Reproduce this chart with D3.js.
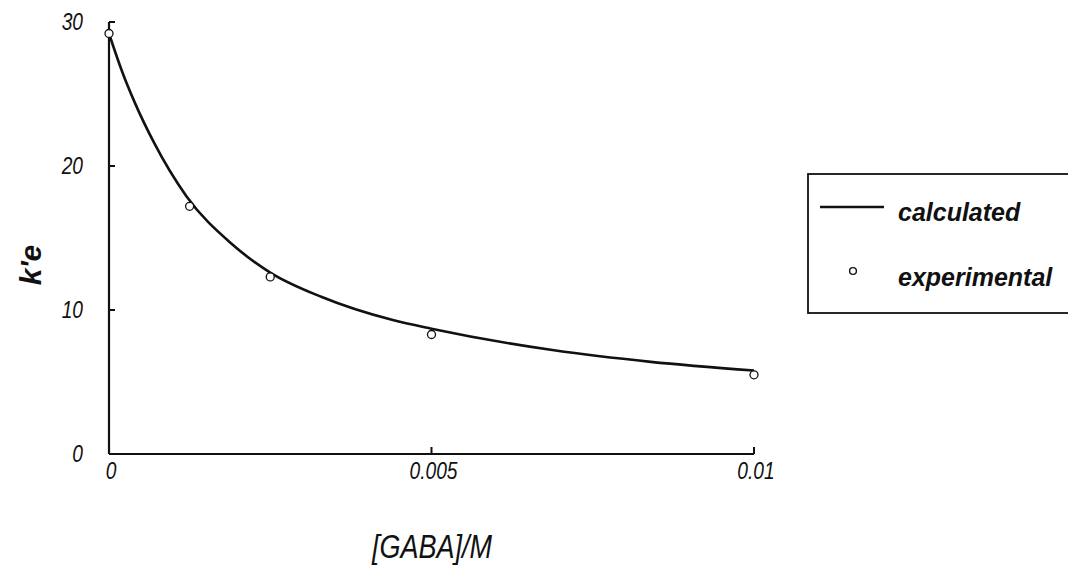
<!DOCTYPE html>
<html><head><meta charset="utf-8">
<script src="https://cdn.jsdelivr.net/npm/d3@7/dist/d3.min.js"></script>
<style>
body{margin:0;background:#fff;}
svg{display:block;}
.tick-lbl{font-family:"Liberation Sans",Arial,sans-serif;font-style:italic;font-size:24px;fill:#111;}
</style></head>
<body>
<svg id="c" width="1068" height="571"></svg>
<script>
// calculated curve
const calcX = [0, 0.0002, 0.0004, 0.0007, 0.0012, 0.0019, 0.0025, 0.0033, 0.0044, 0.005, 0.0069, 0.0084, 0.01];
const calcY = [29.2, 26.6, 24.4, 21.6, 17.9, 14.6, 12.6, 10.9, 9.3, 8.7, 7.2, 6.4, 5.8];
// experimental points
const expX = [0, 0.00125, 0.0025, 0.005, 0.01];
const expY = [29.2, 17.2, 12.3, 8.3, 5.5];
// tick labels
const xTicks = [0, 0.005, 0.01];
const xTickLabels = ["0", "0.005", "0.01"];
const yTicks = [0, 10, 20, 30];
const yTickLabels = ["0", "10", "20", "30"];
const legendLabels = ["calculated", "experimental"];

const svg = d3.select("#c");
const x = d3.scaleLinear().domain([0, 0.01]).range([109, 754]);
const y = d3.scaleLinear().domain([0, 30]).range([454, 22]);
const NARROW = 0.8;

// axes lines
const axG = svg.append("g").attr("stroke", "#111").attr("fill", "none");
axG.append("line").attr("x1", x(0)).attr("x2", x(0)).attr("y1", y(30)).attr("y2", y(0)).attr("stroke-width", 2.2);
axG.append("line").attr("x1", x(0)).attr("x2", x(0.01)).attr("y1", y(0)).attr("y2", y(0)).attr("stroke-width", 2.2);
yTicks.filter(d => d > 0).forEach(d => {
  axG.append("line").attr("x1", x(0)).attr("x2", x(0) + 6).attr("y1", y(d)).attr("y2", y(d)).attr("stroke-width", 2);
});
xTicks.filter(d => d > 0).forEach(d => {
  axG.append("line").attr("x1", x(d)).attr("x2", x(d)).attr("y1", y(0)).attr("y2", y(0) - 7).attr("stroke-width", 2);
});

// tick labels (condensed)
svg.append("g").selectAll("text").data(yTicks).join("text")
  .attr("class", "tick-lbl")
  .attr("transform", d => `translate(83,${y(d) + 8}) scale(${NARROW},1)`)
  .attr("text-anchor", "end")
  .text((d, i) => yTickLabels[i]);
svg.append("g").selectAll("text").data(xTicks).join("text")
  .attr("class", "tick-lbl")
  .attr("transform", d => `translate(${x(d) + 2},479) scale(${NARROW},1)`)
  .attr("text-anchor", "middle")
  .text((d, i) => xTickLabels[i]);

// axis titles
svg.append("text").attr("transform", "translate(432,558) scale(0.82,1)").attr("text-anchor", "middle")
  .style("font-family", "'Liberation Sans',Arial,sans-serif")
  .style("font-style", "italic").style("font-size", "33px").attr("fill", "#111")
  .text("[GABA]/M");
svg.append("text").attr("transform", "translate(41,265) rotate(-90)").attr("text-anchor", "middle")
  .style("font-family", "'Liberation Sans',Arial,sans-serif")
  .style("font-style", "italic").style("font-weight", "bold").style("font-size", "30px").attr("fill", "#111")
  .text("k'e");

// calculated curve
const pts = calcX.map((d, i) => [d, calcY[i]]);
const line = d3.line().x(d => x(d[0])).y(d => y(d[1])).curve(d3.curveMonotoneX);
svg.append("path").datum(pts).attr("d", line).attr("fill", "none").attr("stroke", "#111").attr("stroke-width", 2.6);

// experimental points
svg.append("g").selectAll("circle").data(expX.map((d, i) => [d, expY[i]])).join("circle")
  .attr("cx", d => x(d[0])).attr("cy", d => y(d[1])).attr("r", 4)
  .attr("fill", "#fff").attr("stroke", "#111").attr("stroke-width", 1.3);

// legend
const lg = svg.append("g");
lg.append("rect").attr("x", 808).attr("y", 174).attr("width", 300).attr("height", 139)
  .attr("fill", "none").attr("stroke", "#111").attr("stroke-width", 1.8);
lg.append("line").attr("x1", 820).attr("x2", 884).attr("y1", 207).attr("y2", 207).attr("stroke", "#111").attr("stroke-width", 2.6);
lg.append("circle").attr("cx", 853).attr("cy", 271).attr("r", 3.4).attr("fill", "#fff").attr("stroke", "#111").attr("stroke-width", 1.4);
lg.selectAll("text").data(legendLabels).join("text")
  .attr("x", 898).attr("y", (d, i) => i === 0 ? 221 : 286)
  .style("font-family", "'Liberation Sans',Arial,sans-serif")
  .style("font-style", "italic").style("font-weight", "bold").style("font-size", "25px").attr("fill", "#111")
  .text(d => d);
</script>
</body></html>
